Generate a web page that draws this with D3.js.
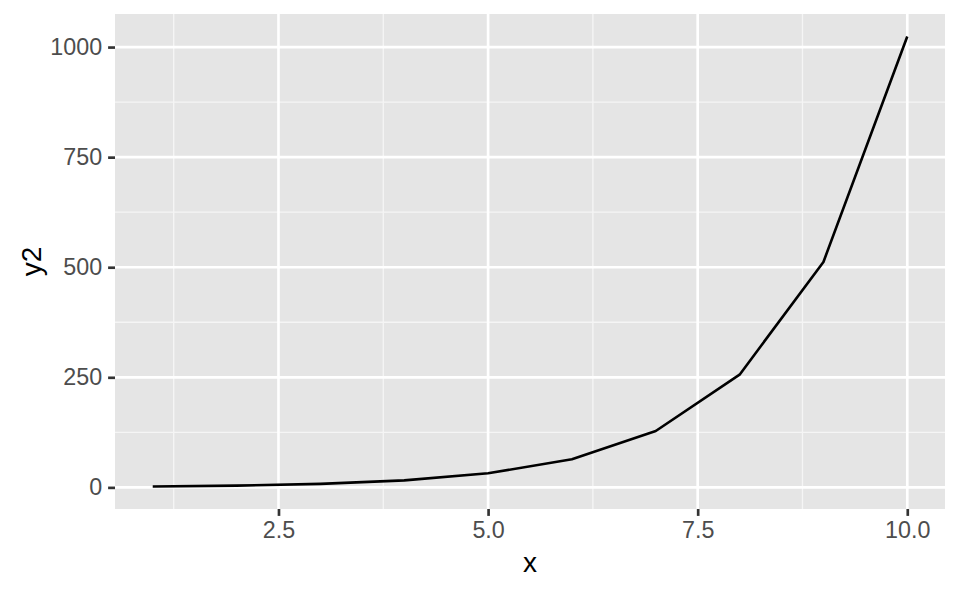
<!DOCTYPE html>
<html><head><meta charset="utf-8">
<script src="https://cdn.jsdelivr.net/npm/d3@7"></script>
<style>body{margin:0;background:#fff}svg{display:block}</style>
</head><body>
<svg id="c" width="960" height="593"></svg>
<script>
const xs = [1,2,3,4,5,6,7,8,9,10];
const ys = [2,4,8,16,32,64,128,256,512,1024];
const xTicks = [2.5,5.0,7.5,10.0];
const xMinor = [1.25,3.75,6.25,8.75];
const yTicks = [0,250,500,750,1000];
const yMinor = [125,375,625,875];

const svg = d3.select("#c");
const L=115, R=945, T=14, B=509;
const xr = [d3.min(xs), d3.max(xs)], xe = (xr[1]-xr[0])*0.05;
const yr = [d3.min(ys), d3.max(ys)], ye = (yr[1]-yr[0])*0.05;
const x = d3.scaleLinear().domain([xr[0]-xe, xr[1]+xe]).range([L,R]);
const y = d3.scaleLinear().domain([yr[0]-ye, yr[1]+ye]).range([B,T]);
const FONT = "Liberation Sans, Arial, Helvetica, sans-serif";

svg.append("rect").attr("x",L).attr("y",T).attr("width",R-L).attr("height",B-T).attr("fill","#E5E5E5");
const g = svg.append("g");
g.selectAll(".xmin").data(xMinor).join("line").attr("x1",d=>x(d)).attr("x2",d=>x(d)).attr("y1",T).attr("y2",B).attr("stroke","#F5F5F5").attr("stroke-width",1.33);
g.selectAll(".ymin").data(yMinor).join("line").attr("y1",d=>y(d)).attr("y2",d=>y(d)).attr("x1",L).attr("x2",R).attr("stroke","#F5F5F5").attr("stroke-width",1.33);
g.selectAll(".xmaj").data(xTicks).join("line").attr("x1",d=>x(d)).attr("x2",d=>x(d)).attr("y1",T).attr("y2",B).attr("stroke","#fff").attr("stroke-width",2.67);
g.selectAll(".ymaj").data(yTicks).join("line").attr("y1",d=>y(d)).attr("y2",d=>y(d)).attr("x1",L).attr("x2",R).attr("stroke","#fff").attr("stroke-width",2.67);

svg.append("path").datum(xs.map((d,i)=>[d,ys[i]]))
  .attr("d", d3.line().x(d=>x(d[0])).y(d=>y(d[1])))
  .attr("fill","none").attr("stroke","#000").attr("stroke-width",2.6).attr("stroke-linejoin","round");

const xa = svg.append("g").attr("transform",`translate(0,${B})`)
  .call(d3.axisBottom(x).tickValues(xTicks).tickFormat(d3.format(".1f")).tickSize(6.9).tickPadding(5.5));
const ya = svg.append("g").attr("transform",`translate(${L},0)`)
  .call(d3.axisLeft(y).tickValues(yTicks).tickFormat(d3.format("d")).tickSize(6.9).tickPadding(6));
[xa,ya].forEach(a=>{
  a.select(".domain").remove();
  a.selectAll("line").attr("stroke","#333").attr("stroke-width",2.67);
  a.selectAll("text").attr("fill","#4D4D4D").attr("font-family",FONT).attr("font-size",23.3);
});
svg.append("text").attr("x",(L+R)/2).attr("y",572).attr("text-anchor","middle")
  .attr("font-family",FONT).attr("font-size",28).attr("fill","#000").text("x");
svg.append("text").attr("transform",`translate(41,${(T+B)/2}) rotate(-90)`).attr("text-anchor","middle")
  .attr("font-family",FONT).attr("font-size",28).attr("fill","#000").text("y2");
</script>
</body></html>
